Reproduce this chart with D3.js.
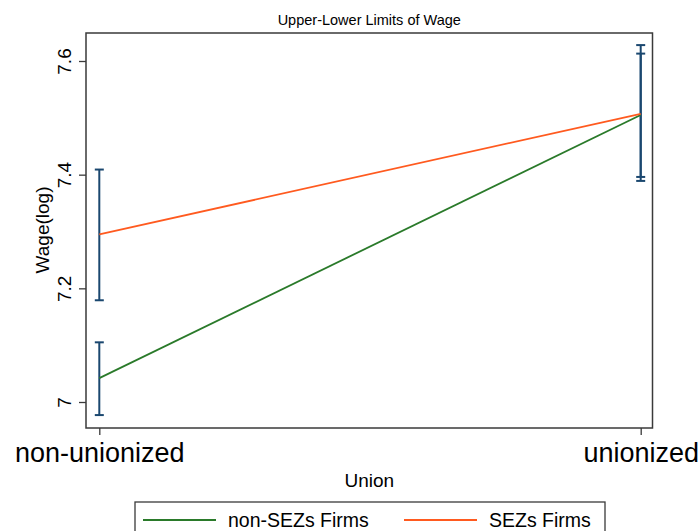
<!DOCTYPE html>
<html>
<head>
<meta charset="utf-8">
<script src="https://cdn.jsdelivr.net/npm/d3@7"></script>
<style>
  body { margin: 0; background: #fff; }
  text { font-family: "Liberation Sans", Arial, sans-serif; fill: #000; }
</style>
</head>
<body>
<svg id="chart" width="699" height="531"></svg>
<script>
// categories on the x axis
var unionCats = ["non-unionized", "unionized"];
// predicted log wage, with lower / upper limits
var nonSezMean = [7.042, 7.505];
var nonSezLower = [6.977, 7.396];
var nonSezUpper = [7.105, 7.613];
var sezMean = [7.295, 7.507];
var sezLower = [7.179, 7.389];
var sezUpper = [7.409, 7.628];
var yTicks = [7, 7.2, 7.4, 7.6];

var series = [
  { name: "non-SEZs Firms", mean: nonSezMean, lo: nonSezLower, hi: nonSezUpper, color: "#2a7a2a" },
  { name: "SEZs Firms", mean: sezMean, lo: sezLower, hi: sezUpper, color: "#ff5a1f" }
];

var svg = d3.select("#chart");
var box = { left: 86, right: 652.5, top: 33, bottom: 428 };

var x = d3.scalePoint().domain(unionCats).range([99.3, 640.7]);
var y = d3.scaleLinear().domain([7, 7.6]).range([402, 61]);

// title
svg.append("text")
  .attr("x", (box.left + box.right) / 2).attr("y", 25)
  .attr("text-anchor", "middle").style("font-size", "14.5px")
  .text("Upper-Lower Limits of Wage");

// plot frame
svg.append("rect")
  .attr("x", box.left).attr("y", box.top)
  .attr("width", box.right - box.left).attr("height", box.bottom - box.top)
  .attr("fill", "none").attr("stroke", "#3a3a3a").attr("stroke-width", 1.5);

// y axis
var yAxis = svg.append("g").attr("transform", "translate(" + box.left + ",0)")
  .call(d3.axisLeft(y).tickValues(yTicks).tickSize(7).tickFormat(d3.format("")));
yAxis.select(".domain").remove();
yAxis.selectAll(".tick line").attr("stroke", "#3a3a3a").attr("stroke-width", 1.3);
yAxis.selectAll(".tick text")
  .attr("x", null).attr("dy", null)
  .attr("transform", "translate(-15,0) rotate(-90)")
  .attr("text-anchor", "middle")
  .style("font-size", "19px").style("font-family", "Liberation Sans, Arial, sans-serif");

// x axis
var xAxis = svg.append("g").attr("transform", "translate(0," + box.bottom + ")")
  .call(d3.axisBottom(x).tickSize(7));
xAxis.select(".domain").remove();
xAxis.selectAll(".tick line").attr("stroke", "#3a3a3a").attr("stroke-width", 1.3);
xAxis.selectAll(".tick text")
  .attr("y", 34).attr("dy", null)
  .style("font-size", "27px").style("font-family", "Liberation Sans, Arial, sans-serif");

// axis titles
svg.append("text")
  .attr("transform", "translate(49," + 230 + ") rotate(-90)")
  .attr("text-anchor", "middle").style("font-size", "19px")
  .text("Wage(log)");
svg.append("text")
  .attr("x", (box.left + box.right) / 2).attr("y", 487)
  .attr("text-anchor", "middle").style("font-size", "19px")
  .text("Union");

// error bars (drawn first, lines on top)
var barColor = "#1a476f";
series.forEach(function(s) {
  var g = svg.append("g").attr("stroke", barColor).attr("stroke-width", 2).attr("fill", "none");
  unionCats.forEach(function(c, i) {
    var cx = x(c);
    g.append("line").attr("x1", cx).attr("x2", cx).attr("y1", y(s.lo[i])).attr("y2", y(s.hi[i]));
    [s.lo[i], s.hi[i]].forEach(function(v) {
      g.append("line").attr("x1", cx - 4.5).attr("x2", cx + 4.5).attr("y1", y(v)).attr("y2", y(v));
    });
  });
});

// prediction lines
var line = d3.line().x(function(d, i) { return x(unionCats[i]); }).y(function(d) { return y(d); });
series.forEach(function(s) {
  svg.append("path").datum(s.mean)
    .attr("d", line).attr("fill", "none")
    .attr("stroke", s.color).attr("stroke-width", 1.8);
});

// legend
var leg = svg.append("g");
leg.append("rect")
  .attr("x", 135).attr("y", 502).attr("width", 470).attr("height", 40)
  .attr("fill", "#fff").attr("stroke", "#3a3a3a").attr("stroke-width", 1.3);
var legX = [143, 404];
series.forEach(function(s, i) {
  leg.append("line")
    .attr("x1", legX[i]).attr("x2", legX[i] + 73).attr("y1", 520).attr("y2", 520)
    .attr("stroke", s.color).attr("stroke-width", 1.8);
  leg.append("text")
    .attr("x", legX[i] + 85).attr("y", 527)
    .style("font-size", "19.5px")
    .text(s.name);
});
</script>
</body>
</html>
